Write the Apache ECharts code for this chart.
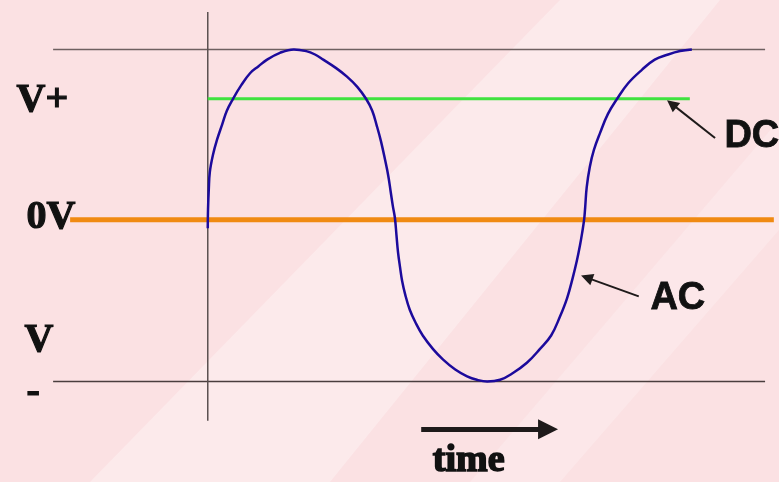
<!DOCTYPE html>
<html>
<head>
<meta charset="utf-8">
<script src="https://cdn.jsdelivr.net/npm/echarts@6/dist/echarts.min.js"></script>
<style>
  html, body { margin: 0; padding: 0; background: #fbe3e5; }
  #acdc { width: 779px; height: 482px; }
</style>
</head>
<body>
<div id="acdc"></div>
<script>
// AC wave (time units, volts with V+ = 1)
const acTime = [0, 0.05, 0.2, 0.4, 1.0, 1.8, 2.8, 3.7, 4.9, 6.5, 8.2, 9.8, 11.5, 14.0, 16.7,
  19.1, 20.8, 22.4, 24.9, 27.0, 29.0, 30.7, 31.9, 32.8, 33.6, 34.4, 35.0, 35.5, 35.9, 36.3,
  36.6, 36.9, 37.3, 37.7, 38.3, 39.2, 40.4, 41.7, 43.7, 45.6, 48.0, 50.3, 52.2, 54.2,
  56.7, 59.2, 61.9, 64.4, 66.6, 68.3, 69.7, 70.8, 71.6, 72.2, 72.6, 73.0,
  73.2, 73.5, 74.1, 74.9, 76.1, 77.6, 79.4, 81.5, 84.2, 86.7, 89.3, 91.6, 93.9];
const acVolts = [-0.05, 0.06, 0.18, 0.28, 0.38, 0.47, 0.56, 0.64, 0.71, 0.79, 0.86, 0.9, 0.94, 0.98, 1.0,
  0.99, 0.97, 0.94, 0.89, 0.84, 0.78, 0.71, 0.64, 0.55, 0.46, 0.35, 0.26, 0.16, 0.08, 0.01,
  -0.09, -0.19, -0.28, -0.36, -0.44, -0.53, -0.61, -0.68, -0.76, -0.82, -0.88, -0.92, -0.94, -0.95,
  -0.94, -0.9, -0.84, -0.76, -0.68, -0.57, -0.46, -0.34, -0.24, -0.15, -0.08, 0,
  0.07, 0.19, 0.31, 0.41, 0.51, 0.62, 0.71, 0.8, 0.88, 0.94, 0.97, 0.99, 1.0];

// levels
const vPlus = 1;
const vMinus = -0.95;
const dcLevel = 0.71;
const zeroLevel = 0;

// extents of the straight lines (time units / volts)
const railSpan = [-30, 108.1];
const zeroSpan = [-26.7, 109.8];
const dcSpan = [0, 93.5];
const axisSpan = [-1.18, 1.22];

// pointers: [from, to]
const dcPointer = [[98.4, 0.48], [90.0, 0.68]];
const acPointer = [[83.6, -0.45], [73.5, -0.34]];
const timeArrow = [[41.4, -1.23], [66.0, -1.23]];

let acdcChart = echarts.init(document.getElementById("acdc"));

function straight(name, pts, color, width, z) {
  return {
    name: name,
    type: "line",
    data: pts,
    showSymbol: false,
    silent: true,
    z: z,
    lineStyle: { color: color, width: width }
  };
}

function pointer(name, pts, width, size) {
  return {
    name: name,
    type: "lines",
    coordinateSystem: "cartesian2d",
    silent: true,
    z: 6,
    symbol: ["none", "triangle"],
    symbolSize: size,
    lineStyle: { color: "#1e1a1a", width: width, opacity: 1 },
    data: [{ coords: pts }]
  };
}

const serifFont = "bold 40px 'Liberation Serif', 'Times New Roman', serif";
const sansFont = "bold 38px 'Liberation Sans', Arial, sans-serif";

function label(text, left, top, font, heavy) {
  return {
    type: "text",
    left: left,
    top: top,
    z: 10,
    silent: true,
    style: { text: text, font: font, fill: "#111", stroke: "#111", lineWidth: heavy }
  };
}

acdcChart.setOption({
  animation: false,
  backgroundColor: "#fbe1e3",
  grid: { left: 0, right: 0, top: 0, bottom: 0 },
  xAxis: {
    type: "value",
    min: -40.3,
    max: 110.8,
    show: false
  },
  yAxis: {
    type: "value",
    min: -1.54,
    max: 1.29,
    show: false
  },
  graphic: [
    // faint lighter diagonal bands of the backdrop
    {
      type: "polygon",
      z: -10,
      shape: { points: [[90, 482], [330, 482], [720, 0], [560, 0]] },
      style: { fill: "rgba(255,255,255,0.3)" },
      silent: true
    },
    {
      type: "polygon",
      z: -10,
      shape: { points: [[470, 482], [560, 482], [779, 230], [779, 120]] },
      style: { fill: "rgba(255,255,255,0.22)" },
      silent: true
    },
    label("V+", 16, 80, serifFont, 1.2),
    label("0V", 26, 197, serifFont, 1.2),
    label("V", 24, 320, serifFont, 1.2),
    label("-", 26, 372, serifFont, 1.2),
    label("DC", 724, 117, sansFont, 0.8),
    label("AC", 650, 279, sansFont, 0.8),
    label("time", 432, 441, "bold 38px 'Liberation Serif', serif", 1.6)
  ],
  series: [
    straight("V+ rail", [[railSpan[0], vPlus], [railSpan[1], vPlus]], "#6e6060", 1.5, 2),
    straight("V- rail", [[railSpan[0], vMinus], [railSpan[1], vMinus]], "#4a3e3e", 1.5, 2),
    straight("axis", [[0, axisSpan[0]], [0, axisSpan[1]]], "#5a5050", 1.5, 2),
    straight("0V", [[zeroSpan[0], zeroLevel], [zeroSpan[1], zeroLevel]], "#f08a12", 5, 3),
    straight("DC", [[dcSpan[0], dcLevel], [dcSpan[1], dcLevel]], "#3fe23f", 3, 4),
    {
      name: "AC",
      type: "line",
      data: acTime.map((t, i) => [t, acVolts[i]]),
      showSymbol: false,
      smooth: 0.4,
      z: 5,
      lineStyle: { color: "#1c0a9c", width: 2.5 }
    },
    pointer("DC pointer", dcPointer, 2, [9, 12]),
    pointer("AC pointer", acPointer, 2, [9, 12]),
    pointer("time arrow", timeArrow, 5, [22, 20])
  ]
});

window.addEventListener("resize", () => {
  acdcChart.resize();
});
</script>
</body>
</html>
